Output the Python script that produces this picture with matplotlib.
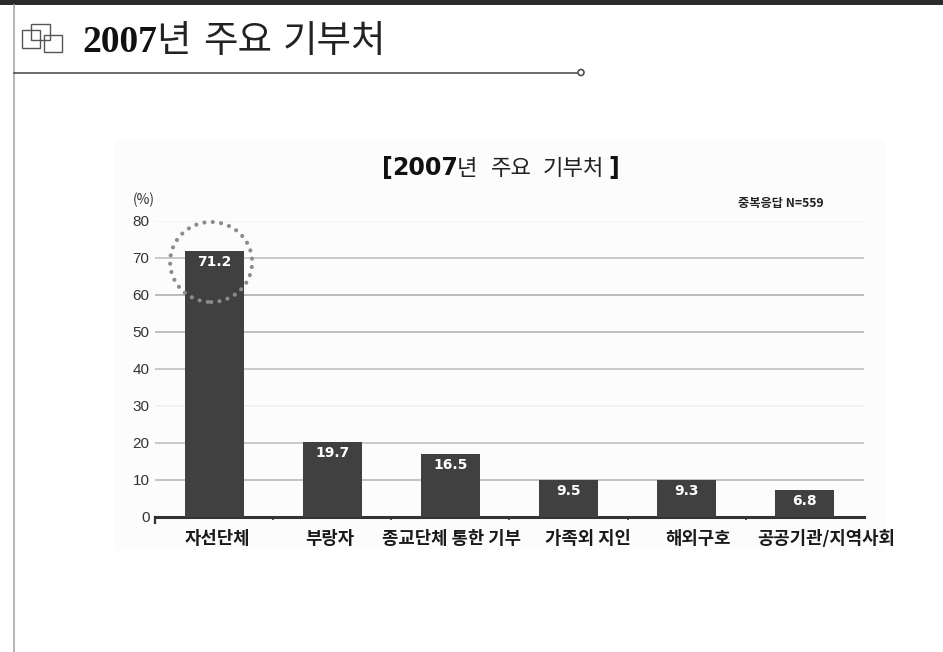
"""
2007 main donation targets, bar chart on a slide-like page.
"""
import numpy as np
import matplotlib
matplotlib.use('Agg')
import matplotlib.pyplot as plt
from matplotlib.patches import Rectangle, Ellipse

plt.rcParams['font.family'] = ['Noto Sans CJK KR', 'DejaVu Sans']

categories = ['자선단체', '부랑자', '종교단체 통한 기부', '가족외 지인', '해외구호', '공공기관/지역사회']
values = [71.2, 19.7, 16.5, 9.5, 9.3, 6.8]
value_labels = ['71.2', '19.7', '16.5', '9.5', '9.3', '6.8']
y_ticks = [0, 10, 20, 30, 40, 50, 60, 70, 80]

# Layout, not data
grid_colors = ['#b2b2b2', '#bcbcbc', '#eeeeee', '#bbbbbb', '#aeaeae', '#aaaaaa', '#bcbcbc', '#f0f0f0']
label_px = [217, 330, 452, 588, 698, 826]
W, H = 943, 652
BAR = '#404040'
BAR_LIFT = 0.6  # the bars stand a little above the zero line in the original


def main():
    fig = plt.figure(figsize=(W / 100, H / 100), dpi=100, facecolor='white')

    # Page decoration, in pixel coordinates
    page = fig.add_axes([0, 0, 1, 1])
    page.set_xlim(0, W)
    page.set_ylim(H, 0)
    page.axis('off')
    page.add_patch(Rectangle((0, 0), W, 5, color='#2b2b2b', lw=0))
    page.plot([14, 14], [5, H], color='#a8a8a8', lw=1.2)
    page.plot([14, 577], [72.5, 72.5], color='#505050', lw=1.2)
    page.add_patch(Ellipse((581, 72.5), 6, 6, fc='white', ec='#505050', lw=1.2))

    # Icon with three boxes
    page.add_patch(Rectangle((22, 30), 18, 18, fc='none', ec='#555555', lw=1))
    page.add_patch(Rectangle((31, 24), 19, 16, fc='none', ec='#555555', lw=1))
    page.add_patch(Rectangle((44, 35), 18, 17, fc='none', ec='#555555', lw=1))

    # Page title, one text per word for the wide spacing
    page.text(82, 52, '2007', family='Liberation Serif', weight='bold', size=27, va='baseline', color='#111111')
    for px, word in [(156, '년'), (203, '주요'), (283, '기부처')]:
        page.text(px, 52, word, size=27, va='baseline', color='#222222')

    page.add_patch(Rectangle((115, 140), 770, 410, color='#fcfcfc', lw=0))

    # Chart title and notes
    page.text(392, 175, '2007', size=17, weight='bold', family='DejaVu Sans', va='baseline', color='#111111')
    page.text(382, 175, '[', size=17, weight='bold', family='DejaVu Sans', va='baseline', color='#111111')
    for px, word in [(457, '년'), (491, '주요'), (543, '기부처')]:
        page.text(px, 175, word, size=16, va='baseline', color='#222222')
    page.text(608, 175, ']', size=17, weight='bold', family='DejaVu Sans', va='baseline', color='#111111')
    page.text(133, 200, '(%)', size=10, va='center', color='#333333')
    page.text(824, 204, '중복응답 N=559', size=8.8, weight='bold', va='center', ha='right', color='#222222')

    ax = fig.add_axes([155 / W, 1 - 517 / H, (864 - 155) / W, (517 - 220.5) / H])
    ax.patch.set_alpha(0)
    x = np.arange(len(categories))
    ax.set_xlim(-0.5, len(categories) - 0.5)
    ax.set_ylim(0, 80)

    for tick, color in zip(y_ticks[1:], grid_colors):
        ax.axhline(tick, color=color, lw=1.1, zorder=1)

    ax.bar(x, np.array(values) + BAR_LIFT, width=0.5, color=BAR, zorder=3)
    for xi, val, label in zip(x, values, value_labels):
        ax.text(xi, val - 2.4, label, color='white', ha='center', va='center',
                size=10, weight='bold', family='DejaVu Sans', zorder=4)

    # Dotted circle around the top bar
    ring = Ellipse((-0.025, 68.8), 0.694, 21.6, fc='none', ec='#8c8c8c', lw=3,
                   ls=(0, (0.01, 2.0)), capstyle='round', clip_on=False, zorder=5)
    ax.add_patch(ring)

    for side in ['top', 'right', 'left']:
        ax.spines[side].set_visible(False)
    ax.spines['bottom'].set_linewidth(2.2)
    ax.spines['bottom'].set_color('#333333')

    ax.set_yticks(y_ticks)
    ax.set_yticklabels([str(t) for t in y_ticks], size=11, color='#333333', family='Liberation Sans')
    ax.tick_params(axis='y', length=0, pad=4)

    # Short ticks between the categories, a longer one at the origin
    ax.set_xticks(x[:-1] + 0.5)
    ax.set_xticklabels([])
    ax.tick_params(axis='x', length=2, width=1.2, color='#333333')
    ax.plot([-0.5, -0.5], [0, -1.5], color='#333333', lw=1.6, clip_on=False, zorder=5)

    for px, name in zip(label_px, categories):
        page.text(px, 539, name, ha='center', va='center', size=12.8, weight='bold', color='#1a1a1a')

    fig.savefig('out.png', dpi=100)


if __name__ == "__main__":
    main()
